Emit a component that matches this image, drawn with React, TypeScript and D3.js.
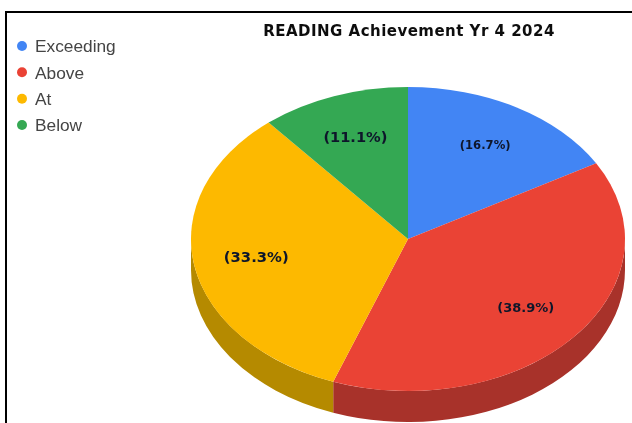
import * as d3 from "d3";

const categories = ["Exceeding", "Above", "At", "Below"];
const shares = [16.7, 38.9, 33.3, 11.1];
const labels = ["(16.7%)", "(38.9%)", "(33.3%)", "(11.1%)"];
const colors = ["#4285f4", "#ea4335", "#fdb900", "#34a853"];
const sideColors = ["#2f5fae", "#a8322a", "#b58a00", "#257a3b"];
const labelSizes = [11.6, 13, 14.8, 14.6];

const width = 632;
const height = 423;
const cx = 408;
const cy = 239;
const rx = 217;
const ry = 152;
const depth = 31;

const pie = d3.pie<number>().sort(null).value((d) => d);
const arcs = pie(shares);
const arc = d3.arc<d3.PieArcDatum<number>>().innerRadius(0).outerRadius(rx);
const labelArc = d3.arc<d3.PieArcDatum<number>>().innerRadius(rx * 0.71).outerRadius(rx * 0.71);
const squash = ry / rx;

// wall of a slice, only the part facing the viewer (90deg to 270deg)
function sidePath(d: d3.PieArcDatum<number>) {
  const a0 = Math.max(d.startAngle, Math.PI / 2);
  const a1 = Math.min(d.endAngle, (3 * Math.PI) / 2);
  if (a1 <= a0) return "";
  const px = (a: number) => rx * Math.sin(a);
  const py = (a: number) => -ry * Math.cos(a);
  return (
    `M${px(a0)},${py(a0)}` +
    `A${rx},${ry} 0 0 1 ${px(a1)},${py(a1)}` +
    `L${px(a1)},${py(a1) + depth}` +
    `A${rx},${ry} 0 0 0 ${px(a0)},${py(a0) + depth}Z`
  );
}

const legendY = d3.scalePoint<string>().domain(categories).range([46, 125]);

export default function App() {
  return (
    <svg
      width={width}
      height={height}
      viewBox={`0 0 ${width} ${height}`}
      style={{ position: "absolute", left: 0, top: 0, background: "#fff" }}
    >
      <defs>
        <filter id="soft" x="-5%" y="-20%" width="110%" height="140%">
          <feGaussianBlur stdDeviation="0.6" />
        </filter>
      </defs>
      <path d="M632,12H6V423" fill="none" stroke="#000" strokeWidth={2} />

      <text
        x={409}
        y={36}
        textAnchor="middle"
        fontFamily="'DejaVu Sans', sans-serif"
        fontWeight={700}
        fontSize={15}
        letterSpacing={0.48}
        fill="#111"
        filter="url(#soft)"
      >
        READING Achievement Yr 4 2024
      </text>

      <g filter="url(#soft)">
        {categories.map((c, i) => (
          <g key={c} transform={`translate(22,${legendY(c)})`}>
            <circle r={5} fill={colors[i]} />
            <text x={13} dy="0.36em" fontFamily="'Liberation Sans', Arial, sans-serif" fontSize={17.3} fill="#444">
              {c}
            </text>
          </g>
        ))}
      </g>

      <g transform={`translate(${cx},${cy})`}>
        {arcs.map((d, i) => (
          <path key={i} d={sidePath(d)} fill={sideColors[i]} />
        ))}
        {arcs.map((d, i) => (
          <path key={i} d={arc(d) ?? ""} transform={`scale(1,${squash})`} fill={colors[i]} />
        ))}
        <g filter="url(#soft)">
          {arcs.map((d, i) => {
            const [x, y] = labelArc.centroid(d);
            return (
              <text
                key={i}
                x={x}
                y={y * squash}
                dy="0.3em"
                textAnchor="middle"
                fontFamily="'DejaVu Sans', sans-serif"
                fontWeight={700}
                fontSize={labelSizes[i]}
                fill="#10162a"
              >
                {labels[i]}
              </text>
            );
          })}
        </g>
      </g>
    </svg>
  );
}
